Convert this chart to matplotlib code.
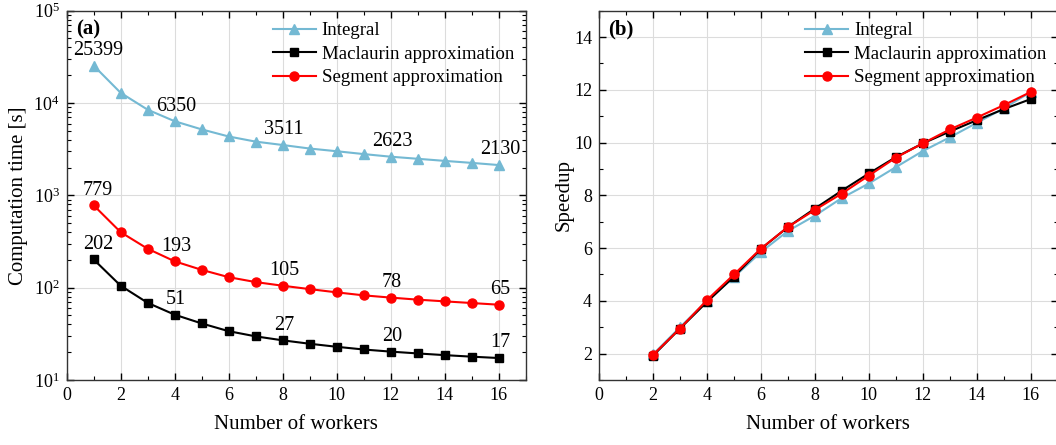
import numpy as np
import matplotlib
matplotlib.use("Agg")
import matplotlib.pyplot as plt
from matplotlib.ticker import MultipleLocator, LogLocator, NullFormatter

plt.rcParams["font.family"] = ["Liberation Serif", "DejaVu Serif"]
plt.rcParams["mathtext.fontset"] = "stix"

workers = np.arange(1, 17)
time_integral = [25399, 12890, 8466, 6350, 5183, 4342, 3819, 3511, 3215,
                 3006, 2800, 2623, 2490, 2363, 2248, 2130]
time_maclaurin = [202, 105, 68.5, 51, 41, 33.8, 29.7, 26.9, 24.7, 22.9,
                  21.4, 20.3, 19.4, 18.6, 17.9, 17.3]
time_segment = [779, 399, 264, 193, 156, 130, 115, 105, 96.5, 89, 82.6,
                78.1, 74.2, 71.1, 68.2, 65.4]
label_workers = [1, 4, 8, 12, 16]

speed_workers = np.arange(2, 17)
speed_integral = [1.97, 3.0, 4.0, 4.9, 5.85, 6.65, 7.23, 7.9, 8.45, 9.07,
                  9.68, 10.2, 10.75, 11.3, 11.92]
speed_maclaurin = [1.92, 2.95, 3.96, 4.92, 5.97, 6.8, 7.5, 8.18, 8.83, 9.45,
                   9.97, 10.42, 10.85, 11.27, 11.65]
speed_segment = [1.95, 2.95, 4.03, 5.0, 5.98, 6.8, 7.45, 8.07, 8.75, 9.43,
                 9.97, 10.5, 10.95, 11.42, 11.92]

c_int = "#74b9d3"
c_mac = "black"
c_seg = "#ff0000"

W, H = 1056, 445
fig = plt.figure(figsize=(W / 100, H / 100), dpi=100)
ax1 = fig.add_axes([66.7 / W, 1 - 380 / H, 458.8 / W, 369.3 / H])
ax2 = fig.add_axes([599 / W, 1 - 380 / H, 458.8 / W, 369.3 / H])


def style(ax):
    for s in ax.spines.values():
        s.set_linewidth(1.0)
        s.set_color("#333333")
    ax.tick_params(which="both", direction="in", top=True, right=True,
                   labelsize=13, pad=5)
    ax.tick_params(which="major", length=5, width=1)
    ax.tick_params(which="minor", length=3, width=0.8)
    ax.grid(True, which="major", color="#dcdcdc", linewidth=0.8)
    ax.set_axisbelow(True)
    ax.set_xlim(0, 17)
    ax.xaxis.set_major_locator(MultipleLocator(2))
    ax.xaxis.set_minor_locator(MultipleLocator(1))
    ax.set_xlabel("Number of workers", fontsize=15, labelpad=8)


def series(ax, x, yi, ym, ys):
    ax.plot(x, yi, color=c_int, marker="^", ms=6.5, lw=1.5, label="Integral")
    ax.plot(x, ym, color=c_mac, marker="s", ms=6, lw=1.5,
            label="Maclaurin approximation")
    ax.plot(x, ys, color=c_seg, marker="o", ms=6.5, lw=1.5,
            label="Segment approximation")
    ax.legend(loc="upper right", frameon=False, fontsize=13.6,
              handlelength=2.3, borderaxespad=0.3, borderpad=0.3,
              labelspacing=0.33, handletextpad=0.3)


# (a) computation time
style(ax1)
series(ax1, workers, time_integral, time_maclaurin, time_segment)
ax1.set_yscale("log")
ax1.set_ylim(10, 1e5)
ax1.yaxis.set_major_locator(LogLocator(base=10))
ax1.yaxis.set_minor_locator(LogLocator(base=10, subs=np.arange(2, 10)))
ax1.yaxis.set_minor_formatter(NullFormatter())
ax1.set_ylabel("Computation time [s]", fontsize=15, labelpad=4)
for data in (time_integral, time_maclaurin, time_segment):
    for n in label_workers:
        v = data[n - 1]
        ax1.annotate(f"{round(v)}", (n, v), xytext=(1 if n > 1 else 3, 4),
                     textcoords="offset points", ha="center", va="bottom",
                     fontsize=14.5)
ax1.text(0.02, 0.975, "(a)", transform=ax1.transAxes, fontsize=15,
         fontweight="bold", va="top")

# (b) speedup
style(ax2)
series(ax2, speed_workers, speed_integral, speed_maclaurin, speed_segment)
ax2.set_ylim(1, 15)
ax2.yaxis.set_major_locator(MultipleLocator(2))
ax2.yaxis.set_minor_locator(MultipleLocator(1))
ax2.set_ylabel("Speedup", fontsize=15, labelpad=0)
ax2.text(0.02, 0.975, "(b)", transform=ax2.transAxes, fontsize=15,
         fontweight="bold", va="top")

fig.savefig("out.png", dpi=100)
